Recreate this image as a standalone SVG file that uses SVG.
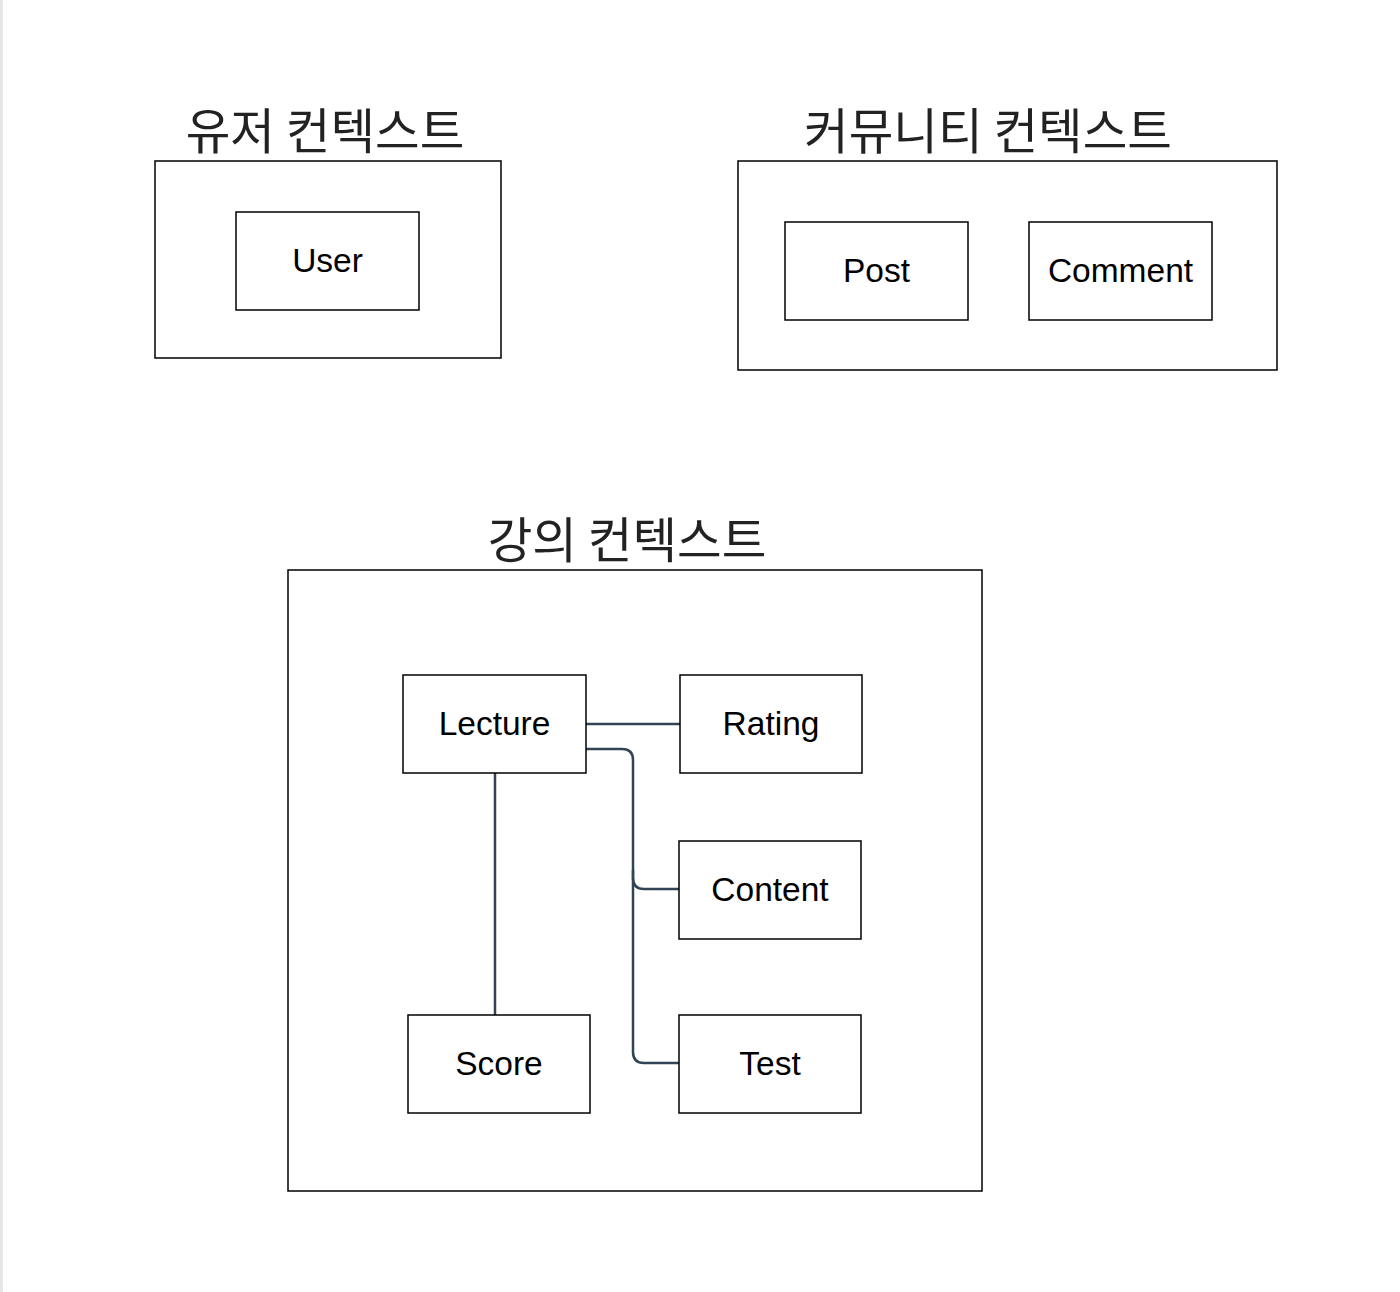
<svg xmlns="http://www.w3.org/2000/svg" width="1400" height="1292" viewBox="0 0 1400 1292">
<style>
.ctx{fill:#ffffff;stroke:#000000;stroke-width:1.5}
.node{fill:#ffffff;stroke:#000000;stroke-width:1.5}
.title{font-family:"Noto Sans CJK KR","Noto Sans",sans-serif;font-size:48.5px;fill:#222222;text-anchor:middle}
.lbl{font-family:"Liberation Sans",Arial,sans-serif;font-size:33.5px;fill:#000000;text-anchor:middle}
.edge{fill:none;stroke:#314354;stroke-width:2.5}
</style>
<rect x="0" y="0" width="1400" height="1292" fill="#ffffff"/>
<rect x="0" y="0" width="3" height="1292" fill="#e6e6e6"/>
<g id="user-context">
<text class="title" x="325" y="149">유저 컨텍스트</text>
<rect class="ctx" x="155" y="161" width="346" height="197"/>
</g>
<g id="community-context">
<text class="title" x="988" y="149">커뮤니티 컨텍스트</text>
<rect class="ctx" x="738" y="161" width="539" height="209"/>
</g>
<g id="lecture-context">
<text class="title" x="627" y="558">강의 컨텍스트</text>
<rect class="ctx" x="288" y="570" width="694" height="621"/>
</g>
<g id="connectors">
<path class="edge" d="M586,724 H680"/>
<path class="edge" d="M586,749 H622 Q633,749 633,760 V878 Q633,889 644,889 H679"/>
<path class="edge" d="M633,870 V1052 Q633,1063 644,1063 H679"/>
<path class="edge" d="M495,773 V1015"/>
</g>
<g id="user">
<rect class="node" x="236" y="212" width="183" height="98"/>
<text class="lbl" x="327.5" y="272">User</text>
</g>
<g id="post">
<rect class="node" x="785" y="222" width="183" height="98"/>
<text class="lbl" x="876.5" y="282">Post</text>
</g>
<g id="comment">
<rect class="node" x="1029" y="222" width="183" height="98"/>
<text class="lbl" x="1120.5" y="282">Comment</text>
</g>
<g id="lecture">
<rect class="node" x="403" y="675" width="183" height="98"/>
<text class="lbl" x="494.5" y="735">Lecture</text>
</g>
<g id="rating">
<rect class="node" x="680" y="675" width="182" height="98"/>
<text class="lbl" x="771" y="735">Rating</text>
</g>
<g id="content">
<rect class="node" x="679" y="841" width="182" height="98"/>
<text class="lbl" x="770" y="901">Content</text>
</g>
<g id="score">
<rect class="node" x="408" y="1015" width="182" height="98"/>
<text class="lbl" x="499" y="1075">Score</text>
</g>
<g id="test">
<rect class="node" x="679" y="1015" width="182" height="98"/>
<text class="lbl" x="770" y="1075">Test</text>
</g>
</svg>
